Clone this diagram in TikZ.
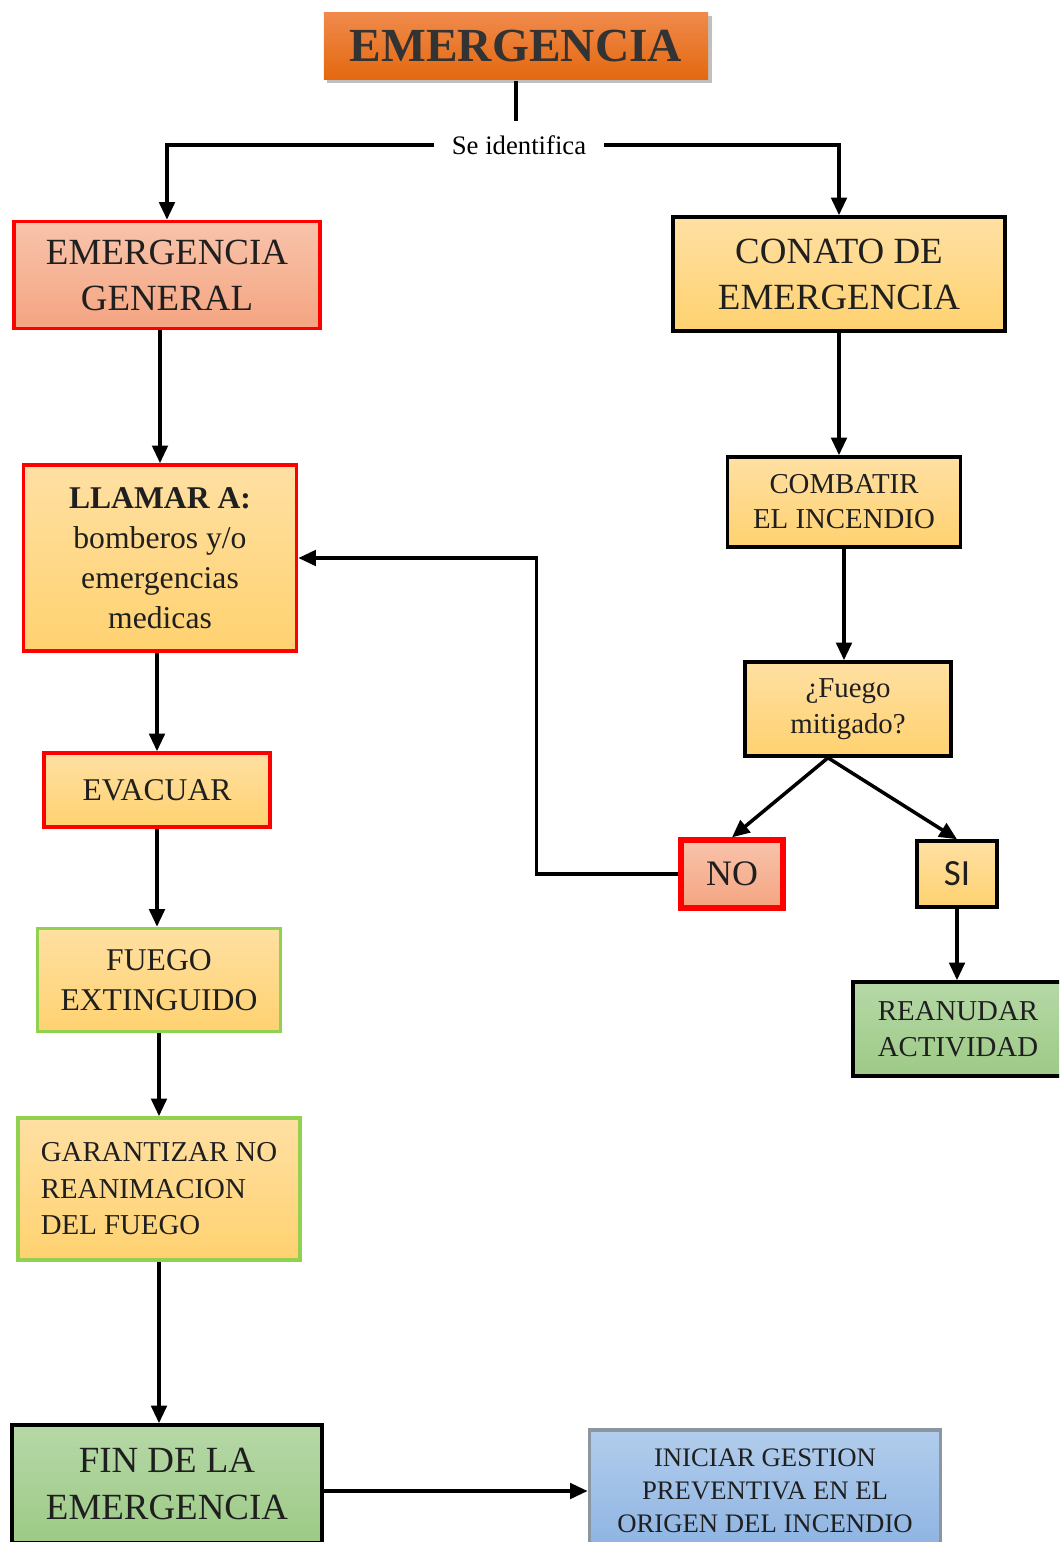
\documentclass[tikz,border=0pt]{standalone}
\usepackage{fontspec}
\setmainfont{Liberation Serif}
\newfontfamily\sisans{Carlito}
\usepackage{tikz}
\usetikzlibrary{positioning,shapes,calc,arrows.meta,shadows}
\usepackage{xcolor}

\definecolor{orangetop}{HTML}{F08A4B}
\definecolor{orangebot}{HTML}{E4680F}
\definecolor{salmontop}{HTML}{F8C4AB}
\definecolor{salmonbot}{HTML}{F4A481}
\definecolor{yellowtop}{HTML}{FFE0A3}
\definecolor{yellowbot}{HTML}{FFD270}
\definecolor{greentop}{HTML}{B6D8A7}
\definecolor{greenbot}{HTML}{9DCA86}
\definecolor{bluetop}{HTML}{B2CDEC}
\definecolor{bluebot}{HTML}{8DB3E2}
\definecolor{lightgreen}{HTML}{92D050}
\definecolor{graybox}{HTML}{8C96A0}

\begin{document}
\begin{tikzpicture}[x=0.01cm,y=-0.01cm,
    box/.style={draw=black,line width=1pt,align=center,inner sep=0pt,text=black!88},
    yellowbox/.style={box,top color=yellowtop,bottom color=yellowbot},
    salmonbox/.style={box,top color=salmontop,bottom color=salmonbot},
    greenbox/.style={box,top color=greentop,bottom color=greenbot},
    redline/.style={draw=red},
    greenline/.style={draw=lightgreen},
    arr/.style={-{Triangle[length=5pt,width=4.4pt]},line width=1pt},
    plain/.style={line width=1pt}]

    \clip (0,0) rectangle (1059,1542);
    \useasboundingbox (0,0) rectangle (1059,1542);

    % top
    \node[box,draw=none,top color=orangetop,bottom color=orangebot,minimum width=3.84cm,minimum height=0.67cm,
        drop shadow={shadow xshift=1pt,shadow yshift=-1pt,fill=black,opacity=0.25},
        text=black!80,font=\bfseries\fontsize{13.5}{16}\selectfont] (emerg) at (516,46) {EMERGENCIA};
    \node[inner xsep=5pt,inner ysep=4pt,font=\fontsize{7.6}{9}\selectfont] (seid) at (519,145) {Se identifica};

    % left column
    \node[salmonbox,redline,minimum width=3.06cm,minimum height=1.07cm,font=\fontsize{10.5}{13.1}\selectfont] (general) at (167,275) {EMERGENCIA\\GENERAL};
    \node[yellowbox,redline,minimum width=2.73cm,minimum height=1.86cm,font=\fontsize{9}{11.4}\selectfont] (llamar) at (160,558) {\textbf{LLAMAR A:}\\bomberos y/o\\emergencias\\medicas};
    \node[yellowbox,redline,minimum width=2.26cm,minimum height=0.74cm,font=\fontsize{9}{11.4}\selectfont] (evacuar) at (157,790) {EVACUAR};
    \node[yellowbox,greenline,minimum width=2.43cm,minimum height=1.03cm,font=\fontsize{9}{11.4}\selectfont] (extinguido) at (159,980) {FUEGO\\EXTINGUIDO};
    \node[yellowbox,greenline,minimum width=2.82cm,minimum height=1.42cm,align=left,font=\fontsize{8.2}{10.4}\selectfont] (garantizar) at (159,1189) {GARANTIZAR NO\\REANIMACION\\DEL FUEGO};
    \node[greenbox,minimum width=3.10cm,minimum height=1.18cm,font=\fontsize{10.5}{13.1}\selectfont] (fin) at (167,1484) {FIN DE LA\\EMERGENCIA};
    \node[box,draw=graybox,top color=bluetop,bottom color=bluebot,minimum width=3.51cm,minimum height=1.22cm,font=\fontsize{7.6}{9.4}\selectfont] (iniciar) at (765,1491) {INICIAR GESTION\\PREVENTIVA EN EL\\ORIGEN DEL INCENDIO};

    % right column
    \node[yellowbox,minimum width=3.32cm,minimum height=1.14cm,font=\fontsize{10.5}{13.1}\selectfont] (conato) at (839,274) {CONATO DE\\EMERGENCIA};
    \node[yellowbox,minimum width=2.33cm,minimum height=0.90cm,font=\fontsize{8.2}{10}\selectfont] (combatir) at (844,502) {COMBATIR\\EL INCENDIO};
    \node[yellowbox,minimum width=2.06cm,minimum height=0.94cm,font=\fontsize{8.2}{10.2}\selectfont] (mitigado) at (848,709) {¿Fuego\\mitigado?};
    \node[salmonbox,redline,line width=1.5pt,minimum width=1.02cm,minimum height=0.68cm,font=\fontsize{10.2}{12}\selectfont] (no) at (732,874) {NO};
    \node[yellowbox,minimum width=0.80cm,minimum height=0.66cm,font=\sisans\fontsize{10.5}{12}\selectfont] (si) at (957,874) {SI};
    \node[greenbox,minimum width=2.10cm,minimum height=0.94cm,font=\fontsize{8.2}{10.2}\selectfont] (reanudar) at (958,1029) {REANUDAR\\ACTIVIDAD};

    \draw[plain] (emerg.south) -- (emerg.south |- seid.north);
    \draw[arr] (seid.west) -| (general.north);
    \draw[arr] (seid.east) -| (conato.north);

    \draw[arr] (llamar.north |- general.south) -- (llamar.north);
    \draw[arr] (evacuar.north |- llamar.south) -- (evacuar.north);
    \draw[arr] (evacuar.south) -- (evacuar.south |- extinguido.north);
    \draw[arr] (garantizar.north |- extinguido.south) -- (garantizar.north);
    \draw[arr] (garantizar.south) -- (garantizar.south |- fin.north);
    \draw[arr] (fin.east |- iniciar.west) -- (iniciar.west);

    \draw[arr] (conato.south) -- (conato.south |- combatir.north);
    \draw[arr] (combatir.south) -- (combatir.south |- mitigado.north);
    \draw[arr] ([xshift=-0.2cm]mitigado.south) -- (no.north);
    \draw[arr] ([xshift=-0.2cm]mitigado.south) -- (si.north);
    \draw[arr] (no.west) -- ++(-142,0) |- (llamar.east);
    \draw[arr] (si.south) -- (si.south |- reanudar.north);
\end{tikzpicture}
\end{document}
